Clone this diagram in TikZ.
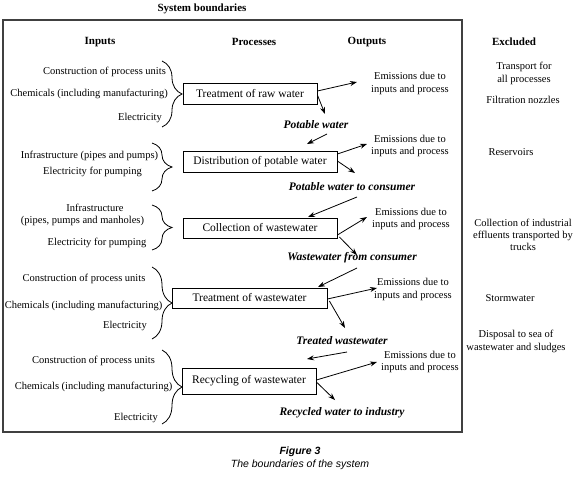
\documentclass[tikz,border=0pt]{standalone}
\usepackage{fontspec}
\setmainfont{Liberation Serif}
\newfontfamily\capfont{Liberation Sans}
\usetikzlibrary{arrows.meta,decorations.pathreplacing}
\begin{document}
\begin{tikzpicture}[x=1pt,y=-1pt,
  txt/.style={inner sep=0pt, font=\fontsize{10.5}{12.5}\selectfont, align=center},
  hdr/.style={inner sep=0pt, font=\fontsize{11}{13}\selectfont\bfseries},
  pbox/.style={draw, line width=0.8pt, inner sep=0pt, font=\fontsize{11.5}{13}\selectfont},
  flow/.style={inner sep=0pt, font=\fontsize{11.5}{13}\selectfont\bfseries\itshape},
  arr/.style={line width=0.8pt, -{Stealth[length=7pt,width=5pt]}},
  brc/.style={decorate, decoration={brace, amplitude=20pt}, line width=0.8pt},
  captxt/.style={inner sep=0pt}
]
\useasboundingbox (0,0) rectangle (580,477);

% frame
\draw[line width=1.3pt, black!75] (3,20) rectangle (462,432);
\node[hdr] (sys) at (202,9) {System boundaries};

% headers
\node[hdr] (hin) at (100,42) {Inputs};
\node[hdr] (hpr) at (254,42) {Processes};
\node[hdr] (hout) at (367,42) {Outputs};
\node[hdr] (hex) at (514,42) {Excluded};

% process boxes
\node[pbox, minimum width=134, minimum height=21] (b1) at (250,93.5) {Treatment of raw water};
\node[pbox, minimum width=154, minimum height=21] (b2) at (260,161.5) {Distribution of potable water};
\node[pbox, minimum width=154, minimum height=20] (b3) at (260,228) {Collection of wastewater};
\node[pbox, minimum width=155, minimum height=20] (b4) at (249.5,298) {Treatment of wastewater};
\node[pbox, minimum width=134, minimum height=26] (b5) at (249,381) {Recycling of wastewater};

% inputs group 1
\node[txt] (i11) at (104.5,72) {Construction of process units};
\node[txt, anchor=east] (i12) at (168,94) {Chemicals (including manufacturing)};
\node[txt] (i13) at (140,118) {Electricity};
\draw[brc] (162,61) -- (162,127);
% group 2
\node[txt] (i21) at (89.5,156) {Infrastructure (pipes and pumps)};
\node[txt] (i22) at (92.5,172) {Electricity for pumping};
\draw[brc] (152,143) -- (152,191);
% group 3
\node[txt] (i31) at (95,208) {Infrastructure};
\node[txt] (i32) at (82.5,221) {(pipes, pumps and manholes)};
\node[txt] (i33) at (97,243) {Electricity for pumping};
\draw[brc] (152,205) -- (152,250);
% group 4
\node[txt] (i41) at (84,279) {Construction of process units};
\node[txt] (i42) at (83.5,306) {Chemicals (including manufacturing)};
\node[txt] (i43) at (125,326) {Electricity};
\draw[brc] (152,267) -- (152,339);
% group 5
\node[txt] (i51) at (93.5,361) {Construction of process units};
\node[txt] (i52) at (93.5,387) {Chemicals (including manufacturing)};
\node[txt] (i53) at (136,418) {Electricity};
\draw[brc] (162,350) -- (162,424);

% emissions
\node[txt] (e1) at (410,83.5) {Emissions due to\\inputs and process};
\node[txt] (e2) at (410,146) {Emissions due to\\inputs and process};
\node[txt] (e3) at (411,219) {Emissions due to\\inputs and process};
\node[txt] (e4) at (413,289.5) {Emissions due to\\inputs and process};
\node[txt] (e5) at (420,362) {Emissions due to\\inputs and process};

% flows
\node[flow] (f1) at (316,125) {Potable water};
\node[flow] (f2) at (352,187) {Potable water to consumer};
\node[flow] (f3) at (352,258) {Wastewater from consumer};
\node[flow] (f4) at (342,341) {Treated wastewater};
\node[flow] (f5) at (342,413) {Recycled water to industry};

% excluded
\node[txt] (x1) at (524,73.5) {Transport for\\all processes};
\node[txt] (x2) at (523,100) {Filtration nozzles};
\node[txt] (x3) at (511,152) {Reservoirs};
\node[txt, font=\fontsize{10.5}{12}\selectfont] (x4) at (523,235) {Collection of industrial\\effluents transported by\\trucks};
\node[txt] (x5) at (510,298) {Stormwater};
\node[txt] (x6) at (516,341.5) {Disposal to sea of\\wastewater and sludges};

% arrow coordinates
\coordinate (a1e) at (357,82);
\coordinate (a1d) at (325,114);
\coordinate (a2s) at (327,134);
\coordinate (a2t) at (307,144);
\coordinate (a2e) at (367,144);
\coordinate (a2d) at (355,173);
\coordinate (a3s) at (357,197);
\coordinate (a3t) at (308,217);
\coordinate (a3e) at (367,217);
\coordinate (a3d) at (357,255);
\coordinate (a4s) at (357,268);
\coordinate (a4t) at (318,287);
\coordinate (a4e) at (377,288);
\coordinate (a4d) at (345,328);
\coordinate (a5s) at (347,352);
\coordinate (a5t) at (307,359);
\coordinate (a5e) at (377,362);
\coordinate (a5d) at (335,400);

\draw[arr] ([yshift=2.5pt]b1.east) -- (a1e);
\draw[arr] ([yshift=-1.5pt]b1.east) -- (a1d);
\draw[arr] (a2s) -- (a2t);
\draw[arr] ([yshift=7.5pt]b2.east) -- (a2e);
\draw[arr] ([yshift=0.5pt]b2.east) -- (a2d);
\draw[arr] (a3s) -- (a3t);
\draw[arr] ([yshift=-7pt]b3.east) -- (a3e);
\draw[arr] ([xshift=2pt,yshift=-9pt]b3.east) -- (a3d);
\draw[arr] (a4s) -- (a4t);
\draw[arr] ([yshift=-1pt]b4.east) -- (a4e);
\draw[arr] ([xshift=2pt,yshift=-3pt]b4.east) -- (a4d);
\draw[arr] (a5s) -- (a5t);
\draw[arr] ([yshift=1pt]b5.east) -- (a5e);
\draw[arr] ([yshift=-1pt]b5.east) -- (a5d);

% caption
\node[captxt, font={\capfont\fontsize{10.5}{12}\selectfont\bfseries\itshape}] (cp1) at (300,452) {Figure 3};
\node[captxt, font={\capfont\fontsize{10.5}{12}\selectfont\itshape}] (cp2) at (300,465) {The boundaries of the system};
\end{tikzpicture}
\end{document}
